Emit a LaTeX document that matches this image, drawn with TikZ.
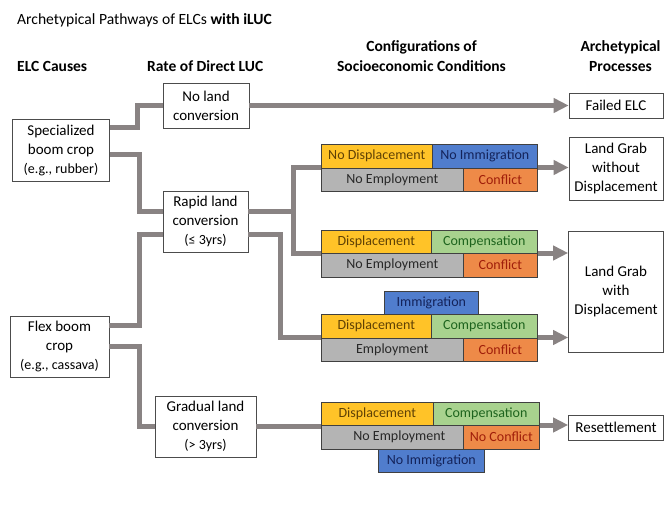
\documentclass[tikz,border=0pt]{standalone}
\usepackage{fontspec}
\setmainfont{Carlito}
\usetikzlibrary{arrows.meta}
\definecolor{linkgray}{RGB}{137,131,131}
\definecolor{cyel}{RGB}{255,195,40}
\definecolor{tyel}{RGB}{95,65,5}
\definecolor{cblu}{RGB}{80,125,205}
\definecolor{tblu}{RGB}{20,35,90}
\definecolor{cgrn}{RGB}{168,210,142}
\definecolor{tgrn}{RGB}{30,100,30}
\definecolor{corg}{RGB}{238,138,72}
\definecolor{torg}{RGB}{160,30,10}
\definecolor{cgry}{RGB}{180,180,180}
\definecolor{tgry}{RGB}{40,40,40}
\begin{document}
\begin{tikzpicture}[x=1pt,y=-1pt,>={Triangle[length=15pt,width=14pt]}]
  \tikzstyle{stage}=[draw=black!70, line width=0.6pt, fill=white, align=center, inner sep=0pt, font=\fontsize{15}{19}\selectfont]
  \tikzstyle{head}=[align=center, inner sep=0pt, font=\fontsize{15.5}{20}\selectfont\bfseries]
  \tikzstyle{cell}=[draw=black!75, line width=0.6pt, inner sep=0pt, minimum height=23.5pt, anchor=north west, font=\fontsize{14}{16}\selectfont]
  \tikzstyle{yel}=[cell, fill=cyel, text=tyel]
  \tikzstyle{blu}=[cell, fill=cblu, text=tblu]
  \tikzstyle{grn}=[cell, fill=cgrn, text=tgrn]
  \tikzstyle{org}=[cell, fill=corg, text=torg]
  \tikzstyle{gry}=[cell, fill=cgry, text=tgry]
  \tikzstyle{link}=[draw=linkgray, line width=5pt]
  \tikzstyle{flow}=[link, ->]
  \newcommand{\ex}[1]{{\fontsize{14}{17}\selectfont #1}}

  \useasboundingbox (0,0) rectangle (666,506);

  \node[anchor=west, inner sep=0pt, font=\fontsize{15.6}{18}\selectfont] (title) at (17,20) {Archetypical Pathways of ELCs \textbf{with iLUC}};
  \node[head, anchor=west] (hcause) at (17,66) {ELC Causes};
  \node[head, anchor=west] (hrate) at (147,66) {Rate of Direct LUC};
  \node[head] (hconf) at (421.5,56) {Configurations of\\Socioeconomic Conditions};
  \node[head] (hproc) at (620.5,56) {Archetypical\\Processes};

  \node[stage, minimum width=97pt, minimum height=62pt] (spec) at (61,150) {Specialized\\boom crop\\\ex{(e.g., rubber)}};
  \node[stage, minimum width=99pt, minimum height=61pt] (flex) at (59.5,346.5) {Flex boom\\crop\\\ex{(e.g., cassava)}};

  \node[stage, minimum width=86pt, minimum height=45pt] (noland) at (206,105.5) {No land\\conversion};
  \node[stage, minimum width=85pt, minimum height=61pt] (rapid) at (205.5,221.5) {Rapid land\\conversion\\\ex{(≤ 3yrs)}};
  \node[stage, minimum width=101pt, minimum height=61pt] (gradual) at (205.5,426.5) {Gradual land\\conversion\\\ex{(> 3yrs)}};

  \node[stage, minimum width=94pt, minimum height=25pt] (failed) at (616,105.5) {Failed ELC};
  \node[stage, minimum width=94pt, minimum height=63pt] (lgw) at (616,168.5) {Land Grab\\without\\Displacement};
  \node[stage, minimum width=95pt, minimum height=121pt] (lgd) at (616,291.5) {Land Grab\\with\\Displacement};
  \node[stage, minimum width=95pt, minimum height=25pt] (settle) at (616,427.5) {Resettlement};

  \node[yel, minimum width=111pt] (r1dis) at (321,144) {No Displacement};
  \node[blu, minimum width=105pt] (r1imm) at (432,144) {No Immigration};
  \node[gry, minimum width=142pt] (r1emp) at (321,167.5) {No Employment};
  \node[org, minimum width=74pt] (r1con) at (463,167.5) {Conflict};

  \node[yel, minimum width=110pt] (r2dis) at (321,229.5) {Displacement};
  \node[grn, minimum width=106pt] (r2com) at (431,229.5) {Compensation};
  \node[gry, minimum width=142pt] (r2emp) at (321,253) {No Employment};
  \node[org, minimum width=74pt] (r2con) at (463,253) {Conflict};

  \node[blu, minimum width=94pt] (r3imm) at (384,290.5) {Immigration};
  \node[yel, minimum width=110pt] (r3dis) at (321,314) {Displacement};
  \node[grn, minimum width=106pt] (r3com) at (431,314) {Compensation};
  \node[gry, minimum width=142pt] (r3emp) at (321,337.5) {Employment};
  \node[org, minimum width=74pt] (r3con) at (463,337.5) {Conflict};

  \node[yel, minimum width=112pt] (r4dis) at (321,401.5) {Displacement};
  \node[grn, minimum width=106pt] (r4com) at (433,401.5) {Compensation};
  \node[gry, minimum width=142pt] (r4emp) at (321,425) {\hspace*{14pt}No Employment};
  \node[org, minimum width=76pt] (r4con) at (463,425) {No Conflict};
  \node[blu, minimum width=106pt] (r4imm) at (378,448.5) {No Immigration};

  \draw[link] ([yshift=23pt]spec.east) -- ++(28,0) |- (noland.west);
  \draw[link] ([yshift=-4pt]spec.east) -- ++(30,0) |- ([yshift=10pt]rapid.west);
  \draw[link] ([yshift=21.5pt]flex.east) -- ++(30,0) |- ([yshift=-12.5pt]rapid.west);
  \draw[link] (flex.east) -- ++(30,0) |- (gradual.west);

  \draw[link] ([yshift=10pt]rapid.east) -- ++(45,0) coordinate (fork) |- (r1emp.north west);
  \draw[link] (fork) |- (r2emp.north west);
  \draw[link] ([yshift=-13pt]rapid.east) -- ++(32,0) |- (r3emp.north west);
  \draw[link] (gradual.east) -- (gradual.east -| r4emp.north west);

  \draw[flow] (noland.east) -- (noland.east -| failed.west);
  \draw[flow] (r1con.north east) -- (r1con.north east -| lgw.west);
  \draw[flow] (r2con.north east) -- (r2con.north east -| lgd.west);
  \draw[flow] (r3con.north east) -- (r3con.north east -| lgd.west);
  \draw[flow] (r4con.north east) -- (r4con.north east -| settle.west);
\end{tikzpicture}
\end{document}
